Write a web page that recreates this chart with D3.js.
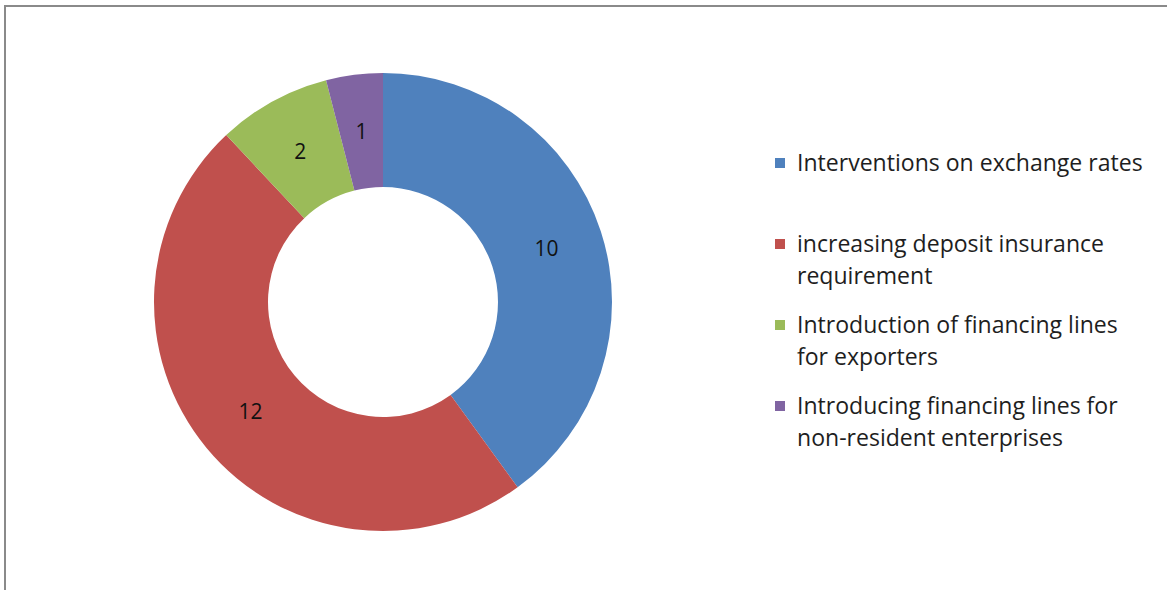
<!DOCTYPE html>
<html lang="en">
<head>
    <meta charset="UTF-8">
    <title>Donut chart</title>
    <script src="https://d3js.org/d3.v7.min.js"></script>
    <style>
        html, body { margin: 0; padding: 0; background: #fff; }
        body { font-family: "Open Sans", "Noto Sans", sans-serif; }
        .slice-label { font-size: 21px; fill: #111; text-anchor: middle; }
        .legend-text { font-size: 19px; fill: #1e1e1e; }
    </style>
</head>
<body>
    <div id="chart"></div>
    <script>
        // data
        const categories = [
            "Interventions on exchange rates",
            "increasing deposit insurance requirement",
            "Introduction of financing lines for exporters",
            "Introducing financing lines for non-resident enterprises"
        ];
        const legendLines = [
            ["Interventions on exchange rates"],
            ["increasing deposit insurance", "requirement"],
            ["Introduction of financing lines", "for exporters"],
            ["Introducing financing lines for", "non-resident enterprises"]
        ];
        const values = [10, 12, 2, 1];
        const colors = ["#4F81BD", "#C0504D", "#9BBB59", "#8064A2"];

        const width = 1167;
        const height = 590;
        const cx = 383, cy = 302;
        const outerR = 229, innerR = 115;

        const svg = d3.select("#chart")
            .append("svg")
            .attr("width", width)
            .attr("height", height);

        // chart frame (only left and top edges are inside the picture)
        svg.append("rect")
            .attr("x", 5)
            .attr("y", 6)
            .attr("width", 1200)
            .attr("height", 700)
            .attr("fill", "none")
            .attr("stroke", "#8a8a8a")
            .attr("stroke-width", 2);

        const data = categories.map((c, i) => ({ name: c, value: values[i], lines: legendLines[i] }));

        const color = d3.scaleOrdinal().domain(categories).range(colors);

        const pie = d3.pie().sort(null).value(d => d.value);
        const arc = d3.arc().innerRadius(innerR).outerRadius(outerR);
        const labelArc = d3.arc().innerRadius(172).outerRadius(172);

        const g = svg.append("g").attr("transform", `translate(${cx},${cy})`);

        const arcs = pie(data);

        g.selectAll("path")
            .data(arcs)
            .join("path")
            .attr("d", arc)
            .attr("fill", d => color(d.data.name));

        g.selectAll(".slice-label")
            .data(arcs)
            .join("text")
            .attr("class", "slice-label")
            .attr("transform", d => `translate(${labelArc.centroid(d)})`)
            .attr("dy", "0.35em")
            .text(d => d.data.value);

        // legend
        const legendY = d3.scalePoint()
            .domain(categories)
            .range([163, 406]);

        const legend = svg.append("g").attr("class", "legend");

        const items = legend.selectAll("g")
            .data(data)
            .join("g")
            .attr("transform", d => `translate(775,${legendY(d.name)})`);

        items.append("rect")
            .attr("x", 0)
            .attr("y", -5)
            .attr("width", 10)
            .attr("height", 10)
            .attr("fill", d => color(d.name));

        items.append("text")
            .attr("class", "legend-text")
            .attr("x", 22)
            .attr("y", 0)
            .selectAll("tspan")
            .data(d => d.lines)
            .join("tspan")
            .attr("x", 22)
            .attr("y", (d, i) => i * 32)
            .attr("dy", "0.35em")
            .text(d => d);

        // fit legend font so the first line spans the same width as the original
        const first = items.select("text").node();
        const w = first.getComputedTextLength ? first.querySelector("tspan").getComputedTextLength() : 0;
        if (w > 0) {
            const size = 19 * 346 / w;
            svg.selectAll(".legend-text").style("font-size", size + "px");
        }
    </script>
</body>
</html>
